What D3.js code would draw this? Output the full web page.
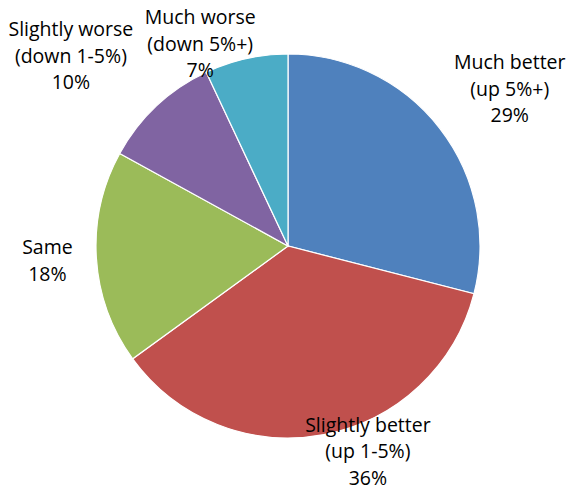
<!DOCTYPE html>
<html>
<head>
<meta charset="utf-8">
<script src="https://cdn.jsdelivr.net/npm/d3@7"></script>
<style>
  html, body { margin: 0; padding: 0; background: #fff; }
  svg text { font-family: "Open Sans", Lato, sans-serif; font-size: 19.5px; fill: #000; }
</style>
</head>
<body>
<svg id="chart" width="573" height="491"></svg>
<script>
// Survey answers, drawn clockwise from 12 o'clock
const categories = ["Much better", "Slightly better", "Same", "Slightly worse", "Much worse"];
const subLabels = ["(up 5%+)", "(up 1-5%)", "", "(down 1-5%)", "(down 5%+)"];
const values = [29, 36, 18, 10, 7];
const colors = ["#4F81BD", "#C0504D", "#9BBB59", "#8064A2", "#4BACC6"];

const width = 573, height = 491;
const cx = 288, cy = 246, radius = 192;

// label placement: [distance from centre, angle in degrees clockwise from top]
const labelLayout = [[272, 54.6], [220, 158.7], [241, 266.7], [289, 311.3], [221, 336.6]];

const svg = d3.select("#chart");
const g = svg.append("g").attr("transform", `translate(${cx},${cy})`);

const total = d3.sum(values);
const pie = d3.pie().sort(null).value(d => d)(values);
const arc = d3.arc().innerRadius(0).outerRadius(radius);

g.selectAll("path.slice")
  .data(pie)
  .join("path")
  .attr("class", "slice")
  .attr("d", arc)
  .attr("fill", (d, i) => colors[i])
  .attr("stroke", "#fff")
  .attr("stroke-width", 1.2);

const lineH = 26.5;
const labels = g.selectAll("g.label")
  .data(pie)
  .join("g")
  .attr("class", "label")
  .attr("transform", (d, i) => {
    const [r, deg] = labelLayout[i];
    const a = deg * Math.PI / 180;
    return `translate(${r * Math.sin(a)},${-r * Math.cos(a)})`;
  });

labels.each(function(d, i) {
  const lines = [categories[i]];
  if (subLabels[i]) lines.push(subLabels[i]);
  lines.push(Math.round(values[i] / total * 100) + "%");
  const sel = d3.select(this);
  const offset = -(lines.length - 1) / 2 * lineH;
  lines.forEach((t, k) => {
    sel.append("text")
      .attr("text-anchor", "middle")
      .attr("dominant-baseline", "central")
      .attr("y", offset + k * lineH)
      .text(t);
  });
});
</script>
</body>
</html>
